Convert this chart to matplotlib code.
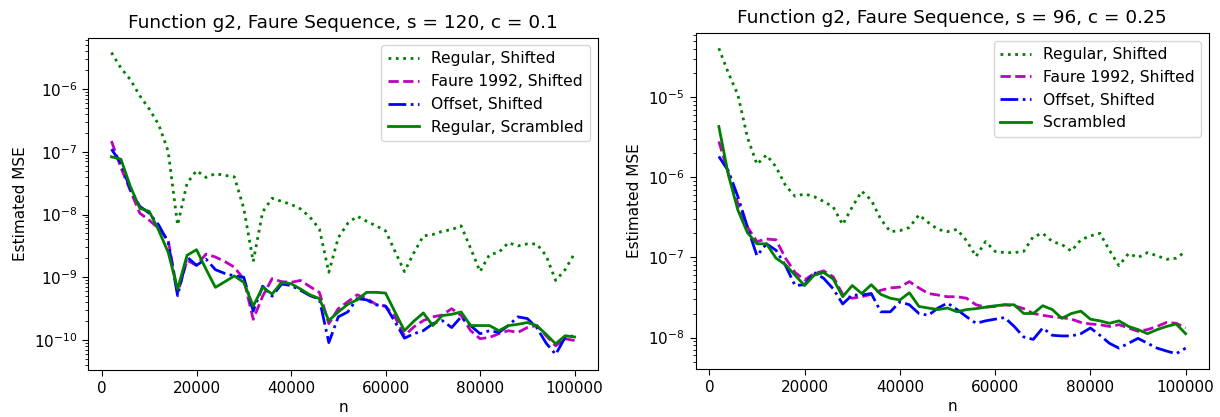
import matplotlib
matplotlib.use("Agg")
import matplotlib.pyplot as plt

n_values = [2000, 4000, 6000, 8000, 10000, 12000, 14000, 16000, 18000, 20000,
            22000, 24000, 26000, 28000, 30000, 32000, 34000, 36000, 38000, 40000,
            42000, 44000, 46000, 48000, 50000, 52000, 54000, 56000, 58000, 60000,
            62000, 64000, 66000, 68000, 70000, 72000, 74000, 76000, 78000, 80000,
            82000, 84000, 86000, 88000, 90000, 92000, 94000, 96000, 98000, 100000]

# ---- left panel: s = 120, c = 0.1 ----
left_regular_shifted = [3.8e-6, 2.16e-6, 1.41e-6, 7.8e-7, 4.8e-7, 2.7e-7, 1.02e-7, 6.8e-9, 3.16e-8, 5.0e-8,
                        3.9e-8, 4.47e-8, 4.2e-8, 3.98e-8, 1.26e-8, 1.78e-9, 1.1e-8, 1.82e-8, 1.62e-8, 1.45e-8,
                        1.23e-8, 9.1e-9, 5.9e-9, 1.2e-9, 4.27e-9, 7.2e-9, 9.4e-9, 7.8e-9, 6.6e-9, 5.5e-9,
                        2.6e-9, 1.23e-9, 2.45e-9, 4.57e-9, 4.8e-9, 5.4e-9, 5.75e-9, 6.6e-9, 2.9e-9, 1.23e-9,
                        2.3e-9, 2.5e-9, 3.55e-9, 3.16e-9, 3.4e-9, 3.4e-9, 2.2e-9, 8.9e-10, 1.32e-9, 2.4e-9]
left_faure_shifted = [1.48e-7, 5.6e-8, 2.4e-8, 1.05e-8, 8.1e-9, 6.0e-9, 3.9e-9, 5.6e-10, 1.86e-9, 1.55e-9,
                      2.34e-9, 2.1e-9, 1.78e-9, 1.45e-9, 9.3e-10, 2.14e-10, 5.0e-10, 9.5e-10, 8.5e-10, 8.3e-10,
                      8.9e-10, 7.1e-10, 5.75e-10, 1.82e-10, 3.16e-10, 4.07e-10, 5.25e-10, 4.57e-10, 3.7e-10, 3.47e-10,
                      2.34e-10, 1.17e-10, 1.62e-10, 2.04e-10, 2.34e-10, 2.5e-10, 3.16e-10, 2.45e-10, 1.41e-10, 1.05e-10,
                      1.1e-10, 1.26e-10, 1.41e-10, 1.32e-10, 1.58e-10, 1.7e-10, 1.17e-10, 8.1e-11, 1.05e-10, 9.8e-11]
left_offset_shifted = [1.1e-7, 6.6e-8, 2.5e-8, 1.35e-8, 1.05e-8, 6.8e-9, 3.6e-9, 5.1e-10, 2.1e-9, 1.55e-9,
                       1.95e-9, 1.32e-9, 1.15e-9, 1.05e-9, 1.0e-9, 2.9e-10, 7.2e-10, 5.0e-10, 7.8e-10, 7.4e-10,
                       6.2e-10, 5.1e-10, 4.47e-10, 9.1e-11, 2.34e-10, 2.8e-10, 4.57e-10, 4.37e-10, 3.63e-10, 3.47e-10,
                       1.95e-10, 1.07e-10, 1.26e-10, 1.41e-10, 1.82e-10, 2.04e-10, 1.58e-10, 2.34e-10, 1.7e-10, 1.26e-10,
                       1.41e-10, 1.32e-10, 1.7e-10, 2.34e-10, 2.2e-10, 1.58e-10, 8.9e-11, 5.9e-11, 1.1e-10, 1.17e-10]
left_regular_scrambled = [8.3e-8, 7.6e-8, 2.8e-8, 1.26e-8, 1.12e-8, 5.6e-9, 2.5e-9, 6.5e-10, 2.24e-9, 2.75e-9,
                          1.35e-9, 6.9e-10, 8.5e-10, 1.05e-9, 8.3e-10, 3.47e-10, 6.9e-10, 5.4e-10, 8.3e-10, 7.9e-10,
                          6.5e-10, 5.25e-10, 4.57e-10, 2.04e-10, 2.8e-10, 3.7e-10, 4.37e-10, 5.75e-10, 5.75e-10, 5.6e-10,
                          2.8e-10, 1.41e-10, 2.0e-10, 2.7e-10, 1.7e-10, 2.45e-10, 2.57e-10, 2.8e-10, 1.7e-10, 1.7e-10,
                          1.7e-10, 1.41e-10, 1.7e-10, 1.78e-10, 1.9e-10, 1.7e-10, 1.23e-10, 8.7e-11, 1.17e-10, 1.12e-10]

# ---- right panel: s = 96, c = 0.25 ----
right_regular_shifted = [4.07e-5, 2.0e-5, 1.07e-5, 3.16e-6, 1.45e-6, 1.9e-6, 1.35e-6, 7.9e-7, 5.8e-7, 6.2e-7,
                         5.75e-7, 5.0e-7, 4.27e-7, 2.57e-7, 4.27e-7, 6.7e-7, 5.2e-7, 3.0e-7, 2.1e-7, 2.16e-7,
                         2.37e-7, 3.4e-7, 2.72e-7, 2.24e-7, 2.1e-7, 2.24e-7, 1.62e-7, 1.03e-7, 1.58e-7, 1.19e-7,
                         1.15e-7, 1.15e-7, 1.19e-7, 1.82e-7, 2.0e-7, 1.58e-7, 1.45e-7, 1.2e-7, 1.66e-7, 1.86e-7,
                         2.0e-7, 1.23e-7, 7.9e-8, 1.12e-7, 1.0e-7, 1.15e-7, 1.05e-7, 9.5e-8, 9.8e-8, 1.19e-7]
right_faure_shifted = [2.8e-6, 1.12e-6, 4.7e-7, 2.4e-7, 1.58e-7, 1.7e-7, 1.66e-7, 9.8e-8, 6.5e-8, 5.25e-8,
                       6.3e-8, 6.8e-8, 5.75e-8, 3.47e-8, 3.1e-8, 3.24e-8, 3.47e-8, 3.9e-8, 4.17e-8, 4.27e-8,
                       5.0e-8, 4.17e-8, 3.55e-8, 3.4e-8, 3.24e-8, 3.24e-8, 3.1e-8, 2.57e-8, 2.4e-8, 2.45e-8,
                       2.57e-8, 2.5e-8, 2.3e-8, 2.0e-8, 1.9e-8, 1.82e-8, 1.78e-8, 1.7e-8, 1.55e-8, 1.48e-8,
                       1.45e-8, 1.38e-8, 1.45e-8, 1.32e-8, 1.2e-8, 1.26e-8, 1.38e-8, 1.55e-8, 1.51e-8, 1.32e-8]
right_offset_shifted = [1.82e-6, 1.2e-6, 5.75e-7, 2.4e-7, 1.05e-7, 1.48e-7, 1.23e-7, 7.9e-8, 4.47e-8, 4.57e-8,
                        6.5e-8, 5.5e-8, 4.07e-8, 2.63e-8, 3.4e-8, 3.4e-8, 3.55e-8, 2.1e-8, 2.1e-8, 2.8e-8,
                        2.57e-8, 2.0e-8, 1.9e-8, 2.34e-8, 2.7e-8, 2.24e-8, 1.82e-8, 1.51e-8, 1.62e-8, 1.7e-8,
                        1.78e-8, 1.38e-8, 1.02e-8, 9.5e-9, 1.32e-8, 1.07e-8, 1.05e-8, 1.05e-8, 1.12e-8, 1.32e-8,
                        1.07e-8, 8.5e-9, 7.4e-9, 8.5e-9, 9.8e-9, 8.5e-9, 7.4e-9, 6.8e-9, 6.3e-9, 7.4e-9]
right_scrambled = [4.3e-6, 1.07e-6, 3.9e-7, 2.04e-7, 1.48e-7, 1.48e-7, 9.8e-8, 8.1e-8, 6.0e-8, 4.47e-8,
                   6.0e-8, 6.5e-8, 5.4e-8, 3.24e-8, 4.47e-8, 3.55e-8, 4.57e-8, 3.47e-8, 3.1e-8, 2.95e-8,
                   3.63e-8, 2.45e-8, 2.34e-8, 2.24e-8, 2.34e-8, 2.1e-8, 2.24e-8, 2.3e-8, 2.4e-8, 2.5e-8,
                   2.57e-8, 2.57e-8, 2.0e-8, 2.0e-8, 2.5e-8, 2.24e-8, 1.74e-8, 2.0e-8, 2.14e-8, 1.7e-8,
                   1.62e-8, 1.51e-8, 1.62e-8, 1.38e-8, 1.26e-8, 1.12e-8, 1.26e-8, 1.38e-8, 1.48e-8, 1.12e-8]

left_title = "Function g2, Faure Sequence, s = 120, c = 0.1"
right_title = "Function g2, Faure Sequence, s = 96, c = 0.25"
left_labels = ["Regular, Shifted", "Faure 1992, Shifted", "Offset, Shifted", "Regular, Scrambled"]
right_labels = ["Regular, Shifted", "Faure 1992, Shifted", "Offset, Shifted", "Scrambled"]
x_ticks = [0, 20000, 40000, 60000, 80000, 100000]

W, H = 1220, 417
fig = plt.figure(figsize=(W / 100, H / 100), dpi=100)

def px_axes(x0, x1, y_top, y_bottom):
    return fig.add_axes([x0 / W, 1 - y_bottom / H, (x1 - x0) / W, (y_bottom - y_top) / H])

ax_l = px_axes(88.3, 597.7, 37.5, 369.5)
ax_r = px_axes(695.5, 1209.0, 33.0, 369.0)

styles = [dict(color="g", linestyle=":"),
          dict(color="m", linestyle="--"),
          dict(color="b", linestyle="-."),
          dict(color="g", linestyle="-")]

for ax, series, labels, title in [
    (ax_l, [left_regular_shifted, left_faure_shifted, left_offset_shifted, left_regular_scrambled],
     left_labels, left_title),
    (ax_r, [right_regular_shifted, right_faure_shifted, right_offset_shifted, right_scrambled],
     right_labels, right_title),
]:
    for ys, lab, st in zip(series, labels, styles):
        ax.plot(n_values, ys, label=lab, linewidth=2.0, **st)
    ax.set_yscale("log")
    ax.set_xticks(x_ticks)
    ax.tick_params(axis="both", which="major", labelsize=11, length=4.5)
    ax.tick_params(axis="both", which="minor", length=2.5)
    ax.set_title(title, fontsize=13.3, pad=7)
    ax.set_xlabel("n", fontsize=11, labelpad=3)
    ax.set_ylabel("Estimated MSE", fontsize=11, labelpad=4)
    ax.legend(loc="upper right", fontsize=11.2)

fig.savefig("out.png", dpi=100)
